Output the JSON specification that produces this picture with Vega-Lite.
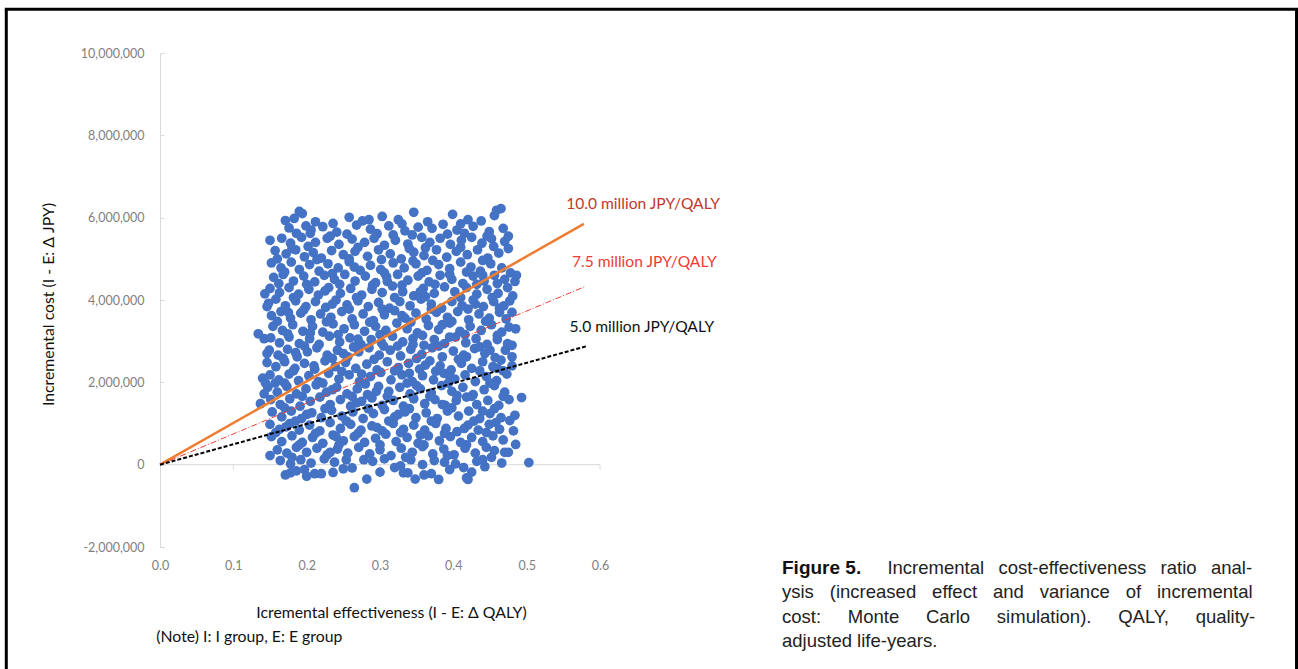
{
"$schema": "https://vega.github.io/schema/vega-lite/v6.json",
"width": 440, "height": 494,
"autosize": {"type": "none"},
"padding": {"left": 160, "top": 53, "right": 698, "bottom": 122},
"background": "white",
"config": {"view": {"stroke": null}, "font": "Lato"},
"datasets": {"pts": [
{"x":0.190,"y":6.15},{"x":0.194,"y":6.10},{"x":0.346,"y":6.13},{"x":0.399,"y":6.08},{"x":0.465,"y":6.22},{"x":0.459,"y":6.18},
{"x":0.171,"y":5.93},{"x":0.183,"y":5.98},{"x":0.212,"y":5.90},{"x":0.258,"y":6.01},{"x":0.276,"y":5.92},{"x":0.303,"y":6.03},{"x":0.325,"y":5.95},{"x":0.365,"y":5.90},{"x":0.420,"y":5.95},{"x":0.438,"y":5.92},{"x":0.456,"y":6.05},{"x":0.236,"y":5.86},
{"x":0.176,"y":5.75},{"x":0.199,"y":5.80},{"x":0.206,"y":5.70},{"x":0.222,"y":5.78},{"x":0.241,"y":5.65},{"x":0.268,"y":5.82},{"x":0.287,"y":5.72},{"x":0.312,"y":5.80},{"x":0.334,"y":5.68},{"x":0.352,"y":5.77},{"x":0.371,"y":5.74},{"x":0.386,"y":5.84},{"x":0.405,"y":5.70},{"x":0.427,"y":5.79},{"x":0.449,"y":5.66},{"x":0.468,"y":5.74},{"x":0.186,"y":5.62},{"x":0.255,"y":5.60},{"x":0.296,"y":5.61},{"x":0.344,"y":5.58},{"x":0.415,"y":5.62},
{"x":0.150,"y":5.45},{"x":0.166,"y":5.50},{"x":0.178,"y":5.38},{"x":0.193,"y":5.52},{"x":0.212,"y":5.40},{"x":0.228,"y":5.50},{"x":0.244,"y":5.35},{"x":0.262,"y":5.48},{"x":0.279,"y":5.40},{"x":0.292,"y":5.50},{"x":0.306,"y":5.33},{"x":0.321,"y":5.45},{"x":0.338,"y":5.36},{"x":0.357,"y":5.52},{"x":0.368,"y":5.40},{"x":0.382,"y":5.50},{"x":0.396,"y":5.35},{"x":0.411,"y":5.45},{"x":0.425,"y":5.52},{"x":0.439,"y":5.38},{"x":0.452,"y":5.49},{"x":0.470,"y":5.42},{"x":0.202,"y":5.30},{"x":0.270,"y":5.28},{"x":0.362,"y":5.27},
{"x":0.157,"y":5.20},{"x":0.172,"y":5.12},{"x":0.185,"y":5.22},{"x":0.197,"y":5.05},{"x":0.209,"y":5.15},{"x":0.220,"y":5.02},{"x":0.234,"y":5.20},{"x":0.250,"y":5.10},{"x":0.266,"y":5.18},{"x":0.283,"y":5.06},{"x":0.298,"y":5.22},{"x":0.314,"y":5.12},{"x":0.329,"y":5.00},{"x":0.346,"y":5.16},{"x":0.360,"y":5.08},{"x":0.377,"y":5.22},{"x":0.391,"y":5.04},{"x":0.404,"y":5.18},{"x":0.419,"y":5.10},{"x":0.433,"y":5.22},{"x":0.447,"y":5.02},{"x":0.462,"y":5.14},{"x":0.475,"y":5.25},{"x":0.160,"y":5.00},{"x":0.302,"y":4.98},
{"x":0.152,"y":4.90},{"x":0.165,"y":4.78},{"x":0.179,"y":4.92},{"x":0.190,"y":4.74},{"x":0.204,"y":4.86},{"x":0.217,"y":4.70},{"x":0.229,"y":4.88},{"x":0.243,"y":4.78},{"x":0.258,"y":4.93},{"x":0.273,"y":4.72},{"x":0.287,"y":4.84},{"x":0.301,"y":4.74},{"x":0.318,"y":4.90},{"x":0.333,"y":4.78},{"x":0.349,"y":4.88},{"x":0.364,"y":4.72},{"x":0.380,"y":4.86},{"x":0.395,"y":4.76},{"x":0.410,"y":4.92},{"x":0.424,"y":4.80},{"x":0.437,"y":4.70},{"x":0.451,"y":4.88},{"x":0.466,"y":4.78},{"x":0.478,"y":4.66},
{"x":0.155,"y":4.55},{"x":0.168,"y":4.62},{"x":0.182,"y":4.46},{"x":0.196,"y":4.58},{"x":0.211,"y":4.44},{"x":0.224,"y":4.60},{"x":0.238,"y":4.50},{"x":0.252,"y":4.62},{"x":0.266,"y":4.46},{"x":0.280,"y":4.58},{"x":0.294,"y":4.42},{"x":0.309,"y":4.56},{"x":0.324,"y":4.62},{"x":0.338,"y":4.48},{"x":0.352,"y":4.58},{"x":0.367,"y":4.44},{"x":0.382,"y":4.60},{"x":0.398,"y":4.50},{"x":0.413,"y":4.40},{"x":0.427,"y":4.58},{"x":0.442,"y":4.46},{"x":0.456,"y":4.60},{"x":0.470,"y":4.50},{"x":0.484,"y":4.45},{"x":0.162,"y":4.40},{"x":0.245,"y":4.38},
{"x":0.150,"y":4.28},{"x":0.163,"y":4.18},{"x":0.176,"y":4.30},{"x":0.189,"y":4.14},{"x":0.203,"y":4.26},{"x":0.216,"y":4.12},{"x":0.230,"y":4.30},{"x":0.246,"y":4.16},{"x":0.260,"y":4.28},{"x":0.275,"y":4.12},{"x":0.289,"y":4.26},{"x":0.303,"y":4.18},{"x":0.317,"y":4.34},{"x":0.331,"y":4.20},{"x":0.346,"y":4.10},{"x":0.359,"y":4.28},{"x":0.374,"y":4.16},{"x":0.388,"y":4.32},{"x":0.402,"y":4.20},{"x":0.418,"y":4.30},{"x":0.432,"y":4.14},{"x":0.446,"y":4.26},{"x":0.461,"y":4.16},{"x":0.474,"y":4.30},{"x":0.481,"y":4.10},
{"x":0.148,"y":3.92},{"x":0.158,"y":4.02},{"x":0.171,"y":3.86},{"x":0.185,"y":3.98},{"x":0.199,"y":3.84},{"x":0.212,"y":3.96},{"x":0.226,"y":3.82},{"x":0.240,"y":4.00},{"x":0.255,"y":3.88},{"x":0.270,"y":3.98},{"x":0.284,"y":3.84},{"x":0.298,"y":3.94},{"x":0.313,"y":3.80},{"x":0.327,"y":3.96},{"x":0.341,"y":3.86},{"x":0.356,"y":4.02},{"x":0.370,"y":3.90},{"x":0.384,"y":3.80},{"x":0.398,"y":3.96},{"x":0.412,"y":3.86},{"x":0.427,"y":4.00},{"x":0.441,"y":3.84},{"x":0.455,"y":3.96},{"x":0.469,"y":3.86},{"x":0.477,"y":3.98},
{"x":0.152,"y":3.62},{"x":0.165,"y":3.72},{"x":0.178,"y":3.56},{"x":0.192,"y":3.68},{"x":0.206,"y":3.52},{"x":0.219,"y":3.66},{"x":0.233,"y":3.58},{"x":0.248,"y":3.72},{"x":0.262,"y":3.54},{"x":0.277,"y":3.66},{"x":0.291,"y":3.50},{"x":0.306,"y":3.64},{"x":0.320,"y":3.74},{"x":0.334,"y":3.56},{"x":0.349,"y":3.68},{"x":0.363,"y":3.54},{"x":0.377,"y":3.70},{"x":0.392,"y":3.58},{"x":0.406,"y":3.72},{"x":0.421,"y":3.52},{"x":0.435,"y":3.66},{"x":0.449,"y":3.56},{"x":0.463,"y":3.70},{"x":0.472,"y":3.54},
{"x":0.154,"y":3.36},{"x":0.167,"y":3.26},{"x":0.181,"y":3.40},{"x":0.195,"y":3.24},{"x":0.208,"y":3.36},{"x":0.222,"y":3.22},{"x":0.236,"y":3.42},{"x":0.251,"y":3.30},{"x":0.265,"y":3.40},{"x":0.279,"y":3.24},{"x":0.294,"y":3.36},{"x":0.308,"y":3.26},{"x":0.323,"y":3.44},{"x":0.337,"y":3.30},{"x":0.351,"y":3.20},{"x":0.366,"y":3.38},{"x":0.380,"y":3.28},{"x":0.395,"y":3.44},{"x":0.409,"y":3.24},{"x":0.423,"y":3.36},{"x":0.438,"y":3.26},{"x":0.452,"y":3.40},{"x":0.466,"y":3.22},{"x":0.476,"y":3.34},{"x":0.134,"y":3.18},{"x":0.142,"y":3.06},
{"x":0.151,"y":3.08},{"x":0.163,"y":2.96},{"x":0.176,"y":3.10},{"x":0.190,"y":2.94},{"x":0.204,"y":3.06},{"x":0.217,"y":2.92},{"x":0.231,"y":3.12},{"x":0.245,"y":2.98},{"x":0.259,"y":3.08},{"x":0.274,"y":2.92},{"x":0.288,"y":3.04},{"x":0.302,"y":2.96},{"x":0.317,"y":3.12},{"x":0.331,"y":2.98},{"x":0.345,"y":3.06},{"x":0.360,"y":2.90},{"x":0.374,"y":3.04},{"x":0.388,"y":2.94},{"x":0.403,"y":3.10},{"x":0.417,"y":2.96},{"x":0.431,"y":3.06},{"x":0.446,"y":2.92},{"x":0.460,"y":3.04},{"x":0.474,"y":2.94},
{"x":0.149,"y":2.78},{"x":0.161,"y":2.66},{"x":0.174,"y":2.80},{"x":0.187,"y":2.62},{"x":0.201,"y":2.74},{"x":0.214,"y":2.84},{"x":0.228,"y":2.66},{"x":0.242,"y":2.78},{"x":0.256,"y":2.62},{"x":0.271,"y":2.74},{"x":0.285,"y":2.84},{"x":0.299,"y":2.66},{"x":0.314,"y":2.78},{"x":0.328,"y":2.64},{"x":0.342,"y":2.80},{"x":0.357,"y":2.68},{"x":0.371,"y":2.84},{"x":0.385,"y":2.62},{"x":0.400,"y":2.76},{"x":0.414,"y":2.66},{"x":0.429,"y":2.82},{"x":0.443,"y":2.70},{"x":0.457,"y":2.60},{"x":0.471,"y":2.78},{"x":0.480,"y":2.62},
{"x":0.146,"y":2.48},{"x":0.158,"y":2.38},{"x":0.170,"y":2.50},{"x":0.184,"y":2.34},{"x":0.197,"y":2.46},{"x":0.211,"y":2.32},{"x":0.225,"y":2.52},{"x":0.239,"y":2.38},{"x":0.253,"y":2.48},{"x":0.267,"y":2.34},{"x":0.282,"y":2.44},{"x":0.296,"y":2.30},{"x":0.310,"y":2.50},{"x":0.325,"y":2.36},{"x":0.339,"y":2.46},{"x":0.354,"y":2.32},{"x":0.368,"y":2.52},{"x":0.382,"y":2.40},{"x":0.397,"y":2.30},{"x":0.411,"y":2.46},{"x":0.425,"y":2.34},{"x":0.440,"y":2.50},{"x":0.454,"y":2.38},{"x":0.468,"y":2.28},
{"x":0.150,"y":2.18},{"x":0.162,"y":2.06},{"x":0.176,"y":2.20},{"x":0.189,"y":2.04},{"x":0.203,"y":2.16},{"x":0.216,"y":2.02},{"x":0.230,"y":2.22},{"x":0.244,"y":2.08},{"x":0.258,"y":2.18},{"x":0.272,"y":2.02},{"x":0.287,"y":2.14},{"x":0.301,"y":2.24},{"x":0.315,"y":2.06},{"x":0.330,"y":2.18},{"x":0.344,"y":2.02},{"x":0.358,"y":2.16},{"x":0.373,"y":2.06},{"x":0.387,"y":2.22},{"x":0.402,"y":2.08},{"x":0.416,"y":2.18},{"x":0.430,"y":2.02},{"x":0.445,"y":2.14},{"x":0.459,"y":2.04},{"x":0.473,"y":2.20},
{"x":0.147,"y":1.88},{"x":0.160,"y":1.76},{"x":0.173,"y":1.90},{"x":0.186,"y":1.72},{"x":0.199,"y":1.84},{"x":0.213,"y":1.94},{"x":0.227,"y":1.76},{"x":0.241,"y":1.88},{"x":0.255,"y":1.72},{"x":0.269,"y":1.84},{"x":0.283,"y":1.70},{"x":0.298,"y":1.90},{"x":0.312,"y":1.78},{"x":0.327,"y":1.88},{"x":0.341,"y":1.72},{"x":0.355,"y":1.84},{"x":0.370,"y":1.74},{"x":0.384,"y":1.92},{"x":0.398,"y":1.78},{"x":0.413,"y":1.88},{"x":0.427,"y":1.70},{"x":0.442,"y":1.82},{"x":0.456,"y":1.92},{"x":0.470,"y":1.76},{"x":0.493,"y":1.63},
{"x":0.137,"y":1.48},{"x":0.151,"y":1.58},{"x":0.164,"y":1.46},{"x":0.177,"y":1.60},{"x":0.191,"y":1.42},{"x":0.205,"y":1.54},{"x":0.218,"y":1.64},{"x":0.232,"y":1.46},{"x":0.246,"y":1.58},{"x":0.260,"y":1.42},{"x":0.275,"y":1.54},{"x":0.289,"y":1.62},{"x":0.303,"y":1.44},{"x":0.318,"y":1.56},{"x":0.332,"y":1.42},{"x":0.346,"y":1.60},{"x":0.361,"y":1.48},{"x":0.375,"y":1.58},{"x":0.389,"y":1.44},{"x":0.404,"y":1.56},{"x":0.418,"y":1.64},{"x":0.432,"y":1.46},{"x":0.447,"y":1.56},{"x":0.462,"y":1.44},{"x":0.476,"y":1.58},
{"x":0.153,"y":1.28},{"x":0.166,"y":1.16},{"x":0.179,"y":1.30},{"x":0.193,"y":1.12},{"x":0.207,"y":1.26},{"x":0.220,"y":1.14},{"x":0.234,"y":1.32},{"x":0.248,"y":1.18},{"x":0.263,"y":1.28},{"x":0.277,"y":1.12},{"x":0.291,"y":1.24},{"x":0.306,"y":1.34},{"x":0.320,"y":1.16},{"x":0.334,"y":1.28},{"x":0.349,"y":1.14},{"x":0.363,"y":1.26},{"x":0.378,"y":1.12},{"x":0.392,"y":1.30},{"x":0.407,"y":1.18},{"x":0.421,"y":1.30},{"x":0.436,"y":1.12},{"x":0.450,"y":1.24},{"x":0.465,"y":1.14},{"x":0.477,"y":1.07},
{"x":0.150,"y":0.98},{"x":0.163,"y":0.86},{"x":0.177,"y":1.00},{"x":0.190,"y":0.84},{"x":0.204,"y":0.96},{"x":0.218,"y":0.82},{"x":0.232,"y":1.02},{"x":0.246,"y":0.88},{"x":0.260,"y":0.98},{"x":0.274,"y":0.84},{"x":0.289,"y":0.94},{"x":0.303,"y":0.82},{"x":0.318,"y":1.00},{"x":0.332,"y":0.86},{"x":0.346,"y":0.96},{"x":0.361,"y":0.84},{"x":0.376,"y":1.00},{"x":0.390,"y":0.88},{"x":0.405,"y":0.80},{"x":0.420,"y":0.96},{"x":0.434,"y":0.84},{"x":0.449,"y":0.98},{"x":0.463,"y":0.86},{"x":0.482,"y":0.82},
{"x":0.152,"y":0.68},{"x":0.166,"y":0.56},{"x":0.180,"y":0.70},{"x":0.194,"y":0.54},{"x":0.208,"y":0.66},{"x":0.222,"y":0.52},{"x":0.236,"y":0.72},{"x":0.250,"y":0.58},{"x":0.265,"y":0.68},{"x":0.279,"y":0.54},{"x":0.294,"y":0.64},{"x":0.308,"y":0.74},{"x":0.322,"y":0.56},{"x":0.337,"y":0.66},{"x":0.352,"y":0.52},{"x":0.366,"y":0.70},{"x":0.381,"y":0.58},{"x":0.396,"y":0.68},{"x":0.410,"y":0.54},{"x":0.425,"y":0.66},{"x":0.440,"y":0.56},{"x":0.454,"y":0.70},{"x":0.468,"y":0.60},{"x":0.485,"y":0.49},
{"x":0.150,"y":0.22},{"x":0.160,"y":0.36},{"x":0.173,"y":0.28},{"x":0.186,"y":0.42},{"x":0.200,"y":0.30},{"x":0.214,"y":0.40},{"x":0.228,"y":0.24},{"x":0.242,"y":0.38},{"x":0.256,"y":0.28},{"x":0.271,"y":0.42},{"x":0.286,"y":0.26},{"x":0.300,"y":0.36},{"x":0.315,"y":0.22},{"x":0.329,"y":0.40},{"x":0.344,"y":0.30},{"x":0.358,"y":0.44},{"x":0.372,"y":0.26},{"x":0.387,"y":0.38},{"x":0.401,"y":0.24},{"x":0.416,"y":0.40},{"x":0.430,"y":0.28},{"x":0.445,"y":0.42},{"x":0.456,"y":0.34},{"x":0.470,"y":0.30},
{"x":0.164,"y":0.10},{"x":0.178,"y":0.02},{"x":0.192,"y":0.12},{"x":0.206,"y":0.04},{"x":0.224,"y":0.14},{"x":0.238,"y":0.06},{"x":0.254,"y":0.12},{"x":0.290,"y":0.08},{"x":0.306,"y":0.14},{"x":0.320,"y":-0.07},{"x":0.328,"y":-0.03},{"x":0.342,"y":0.12},{"x":0.358,"y":0.00},{"x":0.374,"y":0.10},{"x":0.388,"y":0.06},{"x":0.403,"y":0.02},{"x":0.414,"y":-0.07},{"x":0.432,"y":0.08},{"x":0.443,"y":-0.05},{"x":0.440,"y":0.12},{"x":0.503,"y":0.05},{"x":0.466,"y":0.04},
{"x":0.171,"y":-0.25},{"x":0.178,"y":-0.20},{"x":0.197,"y":-0.12},{"x":0.211,"y":-0.22},{"x":0.220,"y":-0.22},{"x":0.236,"y":-0.19},{"x":0.265,"y":-0.56},{"x":0.282,"y":-0.35},{"x":0.332,"y":-0.20},{"x":0.338,"y":-0.20},{"x":0.348,"y":-0.35},{"x":0.360,"y":-0.25},{"x":0.370,"y":-0.22},{"x":0.380,"y":-0.36},{"x":0.418,"y":-0.32},{"x":0.420,"y":-0.36},{"x":0.186,"y":-0.15},{"x":0.250,"y":-0.10},{"x":0.300,"y":-0.18},{"x":0.395,"y":-0.12},
{"x":0.232,"y":5.55},{"x":0.318,"y":5.58},{"x":0.392,"y":5.60},{"x":0.446,"y":5.55},{"x":0.180,"y":5.25},{"x":0.340,"y":5.25},{"x":0.410,"y":5.28},{"x":0.455,"y":5.30},
{"x":0.214,"y":4.98},{"x":0.258,"y":5.00},{"x":0.372,"y":4.96},{"x":0.440,"y":4.96},{"x":0.170,"y":4.68},{"x":0.235,"y":4.64},{"x":0.306,"y":4.66},{"x":0.357,"y":4.66},{"x":0.418,"y":4.68},{"x":0.460,"y":4.40},
{"x":0.200,"y":4.38},{"x":0.290,"y":4.36},{"x":0.330,"y":4.36},{"x":0.375,"y":4.38},{"x":0.432,"y":4.38},{"x":0.182,"y":4.06},{"x":0.268,"y":4.06},{"x":0.320,"y":4.06},{"x":0.362,"y":4.08},{"x":0.410,"y":4.06},{"x":0.453,"y":4.06},
{"x":0.196,"y":3.76},{"x":0.258,"y":3.78},{"x":0.303,"y":3.78},{"x":0.370,"y":3.78},{"x":0.420,"y":3.78},{"x":0.463,"y":3.80},{"x":0.160,"y":3.48},{"x":0.227,"y":3.47},{"x":0.286,"y":3.46},{"x":0.342,"y":3.46},{"x":0.398,"y":3.48},{"x":0.444,"y":3.48},
{"x":0.174,"y":3.18},{"x":0.243,"y":3.16},{"x":0.300,"y":3.16},{"x":0.358,"y":3.14},{"x":0.416,"y":3.16},{"x":0.460,"y":3.14},{"x":0.197,"y":2.88},{"x":0.264,"y":2.86},{"x":0.324,"y":2.88},{"x":0.380,"y":2.88},{"x":0.436,"y":2.86},
{"x":0.168,"y":2.58},{"x":0.235,"y":2.58},{"x":0.292,"y":2.56},{"x":0.350,"y":2.58},{"x":0.407,"y":2.56},{"x":0.465,"y":2.54},{"x":0.182,"y":2.28},{"x":0.248,"y":2.26},{"x":0.320,"y":2.28},{"x":0.376,"y":2.27},{"x":0.436,"y":2.28},
{"x":0.157,"y":1.98},{"x":0.222,"y":1.98},{"x":0.280,"y":1.96},{"x":0.337,"y":1.98},{"x":0.393,"y":1.98},{"x":0.450,"y":1.98},{"x":0.194,"y":1.66},{"x":0.262,"y":1.66},{"x":0.310,"y":1.66},{"x":0.368,"y":1.66},{"x":0.425,"y":1.66},{"x":0.468,"y":1.66},
{"x":0.170,"y":1.38},{"x":0.225,"y":1.36},{"x":0.284,"y":1.36},{"x":0.340,"y":1.36},{"x":0.398,"y":1.38},{"x":0.456,"y":1.36},{"x":0.185,"y":1.06},{"x":0.254,"y":1.06},{"x":0.312,"y":1.06},{"x":0.370,"y":1.06},{"x":0.428,"y":1.06},
{"x":0.158,"y":0.78},{"x":0.212,"y":0.76},{"x":0.270,"y":0.76},{"x":0.328,"y":0.78},{"x":0.388,"y":0.76},{"x":0.445,"y":0.78},{"x":0.190,"y":0.48},{"x":0.244,"y":0.48},{"x":0.300,"y":0.48},{"x":0.360,"y":0.48},{"x":0.418,"y":0.48},
{"x":0.140,"y":2.10},{"x":0.144,"y":1.98},{"x":0.146,"y":2.70},{"x":0.142,"y":1.72},{"x":0.146,"y":3.84},{"x":0.143,"y":4.15},{"x":0.480,"y":3.70},{"x":0.485,"y":3.30},{"x":0.480,"y":2.90},{"x":0.486,"y":4.60},{"x":0.475,"y":5.55},{"x":0.480,"y":2.40},{"x":0.484,"y":1.20},{"x":0.475,"y":0.30},
{"x":0.205,"y":5.62},{"x":0.285,"y":5.95},{"x":0.330,"y":5.85},{"x":0.410,"y":5.85},{"x":0.265,"y":4.80},{"x":0.345,"y":4.95},{"x":0.395,"y":4.62},{"x":0.225,"y":4.22},{"x":0.310,"y":4.45},{"x":0.355,"y":4.20},{"x":0.440,"y":4.60},{"x":0.175,"y":3.70},{"x":0.235,"y":3.90},{"x":0.330,"y":3.62},{"x":0.385,"y":3.40},{"x":0.430,"y":3.90},{"x":0.205,"y":3.20},{"x":0.270,"y":3.05},{"x":0.345,"y":2.92},{"x":0.395,"y":3.10},{"x":0.450,"y":2.78},{"x":0.185,"y":2.72},{"x":0.250,"y":2.70},{"x":0.305,"y":2.88},{"x":0.362,"y":2.42},{"x":0.418,"y":2.62},{"x":0.210,"y":2.40},{"x":0.275,"y":2.20},{"x":0.340,"y":2.22},{"x":0.395,"y":2.14},{"x":0.460,"y":2.34},{"x":0.170,"y":1.98},{"x":0.235,"y":1.82},{"x":0.295,"y":1.78},{"x":0.350,"y":1.92},{"x":0.405,"y":1.68},{"x":0.200,"y":1.22},{"x":0.268,"y":1.50},{"x":0.325,"y":1.22},{"x":0.385,"y":1.46},{"x":0.440,"y":1.30},{"x":0.172,"y":0.92},{"x":0.240,"y":0.68},{"x":0.296,"y":0.90},{"x":0.355,"y":0.72},{"x":0.415,"y":0.88},{"x":0.458,"y":1.02},{"x":0.180,"y":0.18},{"x":0.232,"y":0.30},{"x":0.278,"y":0.12},{"x":0.335,"y":0.18},{"x":0.392,"y":0.22},{"x":0.425,"y":-0.18},{"x":0.262,"y":-0.08},{"x":0.200,"y":-0.28},{"x":0.452,"y":0.18}
]},
"layer": [
{"data": {"values": [{}]},
 "mark": {"type": "rule", "color": "#d9d9d9", "strokeWidth": 1},
 "encoding": {
  "x": {"datum": 0, "type": "quantitative", "scale": {"domain": [0, 0.6], "nice": false, "zero": false},
   "axis": {"values": [0, 0.1, 0.2, 0.3, 0.4, 0.5, 0.6], "format": ".1f", "domain": false, "ticks": false, "grid": false,
    "labelPadding": 12, "labelFontSize": 12.5, "labelColor": "#7f7f7f", "labelFont": "Lato", "labelFlush": false, "labelOverlap": false,
    "title": "Icremental effectiveness  (I - E: Δ QALY)", "titleFont": "Lato", "titleFontSize": 15.8, "titleFontWeight": "normal", "titleColor": "#111111",
    "titleX": 231, "titleY": 65, "titleAlign": "center", "titleBaseline": "middle"}},
  "x2": {"datum": 0.6},
  "y": {"datum": 0, "type": "quantitative", "scale": {"domain": [-2, 10], "nice": false, "zero": false},
   "axis": {"values": [-2, 0, 2, 4, 6, 8, 10], "labelExpr": "(datum.value < 0 ? '-' : '') + format(abs(datum.value) * 1000000, ',')",
    "domainColor": "#d9d9d9", "tickColor": "#d9d9d9", "tickSize": -4, "grid": false,
    "labelPadding": 20, "labelFontSize": 12.5, "labelColor": "#7f7f7f", "labelFont": "Lato", "labelOverlap": false,
    "title": "Incremental cost  (I - E: Δ JPY)", "titleFont": "Lato", "titleFontSize": 15.8, "titleFontWeight": "normal", "titleColor": "#111111",
    "titleX": -112, "titleY": 251, "titleAngle": -90, "titleAlign": "center", "titleBaseline": "middle"}}
 }},
{"data": {"values": [{"t": 0.1}, {"t": 0.2}, {"t": 0.3}, {"t": 0.4}, {"t": 0.5}, {"t": 0.6}]},
 "mark": {"type": "rule", "color": "#d9d9d9", "strokeWidth": 1},
 "encoding": {"x": {"field": "t", "type": "quantitative"}, "y": {"datum": 0}, "y2": {"datum": -0.12}}},
{"data": {"name": "pts"},
 "mark": {"type": "circle", "size": 95, "color": "#4472C4", "opacity": 1},
 "encoding": {"x": {"field": "x", "type": "quantitative"}, "y": {"field": "y", "type": "quantitative"}}},
{"data": {"values": [{"x": 0, "y": 0}, {"x": 0.578, "y": 5.85}]},
 "mark": {"type": "line", "color": "#ED7D31", "strokeWidth": 2.5},
 "encoding": {"x": {"field": "x", "type": "quantitative"}, "y": {"field": "y", "type": "quantitative"}}},
{"data": {"values": [{"x": 0, "y": 0}, {"x": 0.58, "y": 4.33}]},
 "mark": {"type": "line", "color": "#F03C32", "strokeWidth": 1, "strokeDash": [6, 2, 1, 2]},
 "encoding": {"x": {"field": "x", "type": "quantitative"}, "y": {"field": "y", "type": "quantitative"}}},
{"data": {"values": [{"x": 0, "y": 0}, {"x": 0.582, "y": 2.88}]},
 "mark": {"type": "line", "color": "#000000", "strokeWidth": 2, "strokeDash": [4, 2]},
 "encoding": {"x": {"field": "x", "type": "quantitative"}, "y": {"field": "y", "type": "quantitative"}}},
{"data": {"values": [{}]},
 "mark": {"type": "text", "text": "10.0 million JPY/QALY", "color": "#C0392B", "font": "Lato", "fontSize": 15.6, "align": "center", "baseline": "middle"},
 "encoding": {"x": {"datum": 0.6587}, "y": {"datum": 6.32}}},
{"data": {"values": [{}]},
 "mark": {"type": "text", "text": "7.5 million JPY/QALY", "color": "#F03C32", "font": "Lato", "fontSize": 15.6, "align": "center", "baseline": "middle"},
 "encoding": {"x": {"datum": 0.6604}, "y": {"datum": 4.92}}},
{"data": {"values": [{}]},
 "mark": {"type": "text", "text": "5.0 million JPY/QALY", "color": "#111111", "font": "Lato", "fontSize": 15.6, "align": "center", "baseline": "middle"},
 "encoding": {"x": {"datum": 0.657}, "y": {"datum": 3.34}}},
{"data": {"values": [{}]},
 "mark": {"type": "text", "text": "(Note) I: I group, E: E group", "color": "#111111", "font": "Lato", "fontSize": 15.8, "align": "left", "baseline": "middle"},
 "encoding": {"x": {"datum": -0.005}, "y": {"datum": -4.19}}},
{"data": {"values": [{}]},
 "mark": {"type": "text", "text": "Figure 5.", "color": "#111111", "font": "Liberation Sans Narrow, Liberation Sans", "fontWeight": "bold", "fontSize": 19, "align": "left", "baseline": "middle"},
 "encoding": {"x": {"datum": 0.8482}, "y": {"datum": -2.519}}},
{"data": {"values": [{}]},
 "mark": {"type": "text", "text": "Incremental \u2002cost-effectiveness \u2002ratio \u2002anal-", "color": "#222222", "font": "Liberation Sans", "fontSize": 18.5, "align": "right", "baseline": "middle"},
 "encoding": {"x": {"datum": 1.4892}, "y": {"datum": -2.519}}},
{"data": {"values": [{}]},
 "mark": {"type": "text", "text": "ysis \u2002\u200a(increased \u2002\u200aeffect \u2002\u200aand \u2002\u200avariance \u2002\u200aof \u2002\u200aincremental", "color": "#222222", "font": "Liberation Sans", "fontSize": 18.5, "align": "left", "baseline": "middle"},
 "encoding": {"x": {"datum": 0.8482}, "y": {"datum": -3.102}}},
{"data": {"values": [{}]},
 "mark": {"type": "text", "text": "cost: \u2002\u2002\u2006Monte \u2002\u2002\u2006Carlo \u2002\u2002\u2006simulation). \u2002\u2002\u2006QALY, \u2002\u2002\u2006quality-", "color": "#222222", "font": "Liberation Sans", "fontSize": 18.5, "align": "left", "baseline": "middle"},
 "encoding": {"x": {"datum": 0.8482}, "y": {"datum": -3.709}}},
{"data": {"values": [{}]},
 "mark": {"type": "text", "text": "adjusted life-years.", "color": "#222222", "font": "Liberation Sans", "fontSize": 18.5, "align": "left", "baseline": "middle"},
 "encoding": {"x": {"datum": 0.8482}, "y": {"datum": -4.292}}},
{"data": {"values": [{}]},
 "mark": {"type": "rule", "color": "#000000", "strokeWidth": 3},
 "encoding": {"x": {"datum": -0.2096}, "y": {"datum": 11.06}, "y2": {"datum": -5.3}}},
{"data": {"values": [{}]},
 "mark": {"type": "rule", "color": "#000000", "strokeWidth": 3},
 "encoding": {"x": {"datum": 1.5498}, "y": {"datum": 11.06}, "y2": {"datum": -5.3}}},
{"data": {"values": [{}]},
 "mark": {"type": "rule", "color": "#000000", "strokeWidth": 3},
 "encoding": {"x": {"datum": -0.2116}, "x2": {"datum": 1.5518}, "y": {"datum": 11.06}}}
]
}
